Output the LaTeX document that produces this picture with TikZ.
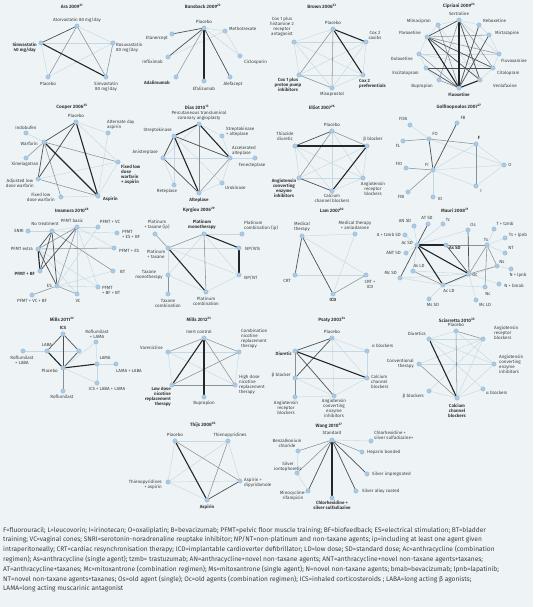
\documentclass[tikz,border=0pt]{standalone}
\usepackage{fontspec}
\setmainfont{Fira Sans}
\usetikzlibrary{backgrounds}
\pgfdeclarelayer{edgelayer}
\pgfsetlayers{background,edgelayer,main}
\definecolor{bgc}{RGB}{238,244,245}
\definecolor{nfill}{RGB}{172,202,228}
\definecolor{ndraw}{RGB}{140,178,212}
\definecolor{elight}{RGB}{198,216,228}
\definecolor{emid}{RGB}{135,145,152}
\definecolor{edark}{RGB}{75,80,85}
\definecolor{ethick}{RGB}{35,38,42}
\definecolor{txt}{RGB}{60,62,64}
\newcommand\NN[5]{\node[nd] (#1) at (#2) {};\node[lb,#3] (#1l) at (#4) {#5};}
\newcommand\EE[3]{\draw[#1] (#2) -- (#3);}
\begin{document}
\begin{tikzpicture}[x=1pt,y=-1pt,
  nd/.style={circle,fill=nfill,draw=ndraw,line width=0.3pt,inner sep=0pt,minimum size=4.4pt},
  lb/.style={font=\fontsize{4.5}{4.9}\selectfont,text=txt,inner sep=0pt,align=center},
  bb/.style={font=\fontsize{4.5}{4.9}\selectfont\bfseries},
  ttl/.style={font=\fontsize{4.7}{5}\selectfont\bfseries,text=txt,inner sep=0pt},
  captxt/.style={font=\fontsize{6.6}{7}\selectfont,text=txt,inner sep=0pt,anchor=base west},
  e0/.style={draw=elight,line width=0.45pt},
  e1/.style={draw=emid,line width=0.55pt},
  e2/.style={draw=edark,line width=0.7pt},
  e3/.style={draw=ethick,line width=1.1pt}]
\begin{pgfonlayer}{background}
\fill[bgc] (0,0) rectangle (533,607);
\end{pgfonlayer}
\useasboundingbox (0,0) rectangle (533,607);

% ---------------- Ara
\node[ttl] (tA) at (72,6) {Ara 2009\textsuperscript{21}};
\NN{a1}{77,26}{}{77,20}{Atorvastatin 80 mg/day}
\NN{a2}{41,43}{bb,anchor=east,align=center}{37,48}{Simvastatin\\40 mg/day}
\NN{a3}{113,43}{anchor=west,align=left}{116,48}{Rosuvastatin\\80 mg/day}
\NN{a4}{48,77}{}{48,84}{Placebo}
\NN{a5}{106,77}{}{106,86.5}{Simvastatin\\80 mg/day}
\begin{pgfonlayer}{edgelayer}
\EE{e0}{a1}{a3}\EE{e0}{a2}{a3}\EE{e0}{a4}{a3}\EE{e0}{a2}{a4}
\EE{e2}{a1}{a2}\EE{e1}{a1}{a4}\EE{e1}{a1}{a5}\EE{e3}{a2}{a5}\EE{e1}{a3}{a5}
\end{pgfonlayer}

% ---------------- Bansback
\node[ttl] (tB) at (203,6) {Bansback 2009\textsuperscript{22}};
\NN{b1}{204,28}{}{204,22}{Placebo}
\NN{b2}{172,34}{anchor=east}{168,38}{Etanercept}
\NN{b3}{225,31}{anchor=west}{229,29}{Methotrexate}
\NN{b4}{168,57}{anchor=east}{163,62}{Infliximab}
\NN{b5}{240,56}{anchor=west}{244,62}{Ciclosporin}
\NN{b6}{176,77}{bb,anchor=east}{170,83}{Adalimumab}
\NN{b7}{204,81}{}{204,89}{Efalizumab}
\NN{b8}{230,77}{}{233,84}{Alefacept}
\begin{pgfonlayer}{edgelayer}
\EE{e0}{b1}{b3}\EE{e0}{b1}{b5}\EE{e0}{b3}{b5}\EE{e0}{b3}{b4}
\EE{e2}{b1}{b2}\EE{e2}{b1}{b4}\EE{e1}{b1}{b6}\EE{e3}{b1}{b7}\EE{e2}{b1}{b8}
\end{pgfonlayer}

% ---------------- Brown
\node[ttl] (tC) at (322,6) {Brown 2006\textsuperscript{23}};
\NN{c1}{333,29}{}{333,23}{Placebo}
\NN{c2}{294,42}{}{282,26.5}{Cox 1 plus\\histamine 2\\receptor\\antagonist}
\NN{c3}{366,42}{}{375,35.5}{Cox 2\\coxibs}
\NN{c4}{299,75}{bb}{288,84.5}{Cox 1 plus\\proton pump\\inhibitors}
\NN{c5}{363,75}{bb,anchor=west,align=left}{359,84}{Cox 2\\preferentials}
\NN{c6}{332,88}{}{332,94}{Misoprostol}
\begin{pgfonlayer}{edgelayer}
\EE{e0}{c2}{c1}\EE{e0}{c2}{c4}\EE{e0}{c2}{c3}\EE{e0}{c3}{c5}\EE{e0}{c6}{c5}
\EE{e0}{c6}{c3}\EE{e0}{c4}{c3}\EE{e0}{c2}{c6}\EE{e0}{c4}{c5}\EE{e0}{c2}{c5}
\EE{e1}{c1}{c4}\EE{e1}{c4}{c6}\EE{e1}{c1}{c6}
\EE{e3}{c1}{c3}\EE{e3}{c1}{c5}
\end{pgfonlayer}

% ---------------- Cipriani
\node[ttl] (tD) at (459,6) {Cipriani 2009\textsuperscript{24}};
\NN{d1}{459,20}{}{459,14}{Sertraline}
\NN{d2}{438,25}{anchor=east}{431,21}{Milnacipran}
\NN{d3}{479,25}{anchor=west}{483,21}{Reboxetine}
\NN{d4}{427,37}{anchor=east}{421,33}{Paroxetine}
\NN{d5}{489,35}{anchor=west}{495,33}{Mirtazapine}
\NN{d6}{419,54}{anchor=east}{413,59}{Duloxetine}
\NN{d7}{499,54}{anchor=west}{501,61}{Fluvoxamine}
\NN{d8}{426,68}{anchor=east}{419,73}{Escitalopram}
\NN{d9}{493,68}{anchor=west}{497,73}{Citalopram}
\NN{d10}{439,80}{anchor=east}{433,86}{Bupropion}
\NN{d11}{480,80}{anchor=west}{493,86}{Venlafaxine}
\NN{d12}{459,88}{bb}{459,95}{Fluoxetine}
\begin{pgfonlayer}{edgelayer}
\EE{e0}{d1}{d2}\EE{e0}{d2}{d4}\EE{e0}{d4}{d6}\EE{e0}{d6}{d8}\EE{e0}{d8}{d10}
\EE{e0}{d12}{d11}\EE{e0}{d11}{d9}\EE{e0}{d9}{d7}\EE{e0}{d7}{d5}\EE{e0}{d5}{d3}
\EE{e0}{d3}{d1}\EE{e0}{d6}{d9}\EE{e0}{d2}{d11}\EE{e0}{d6}{d7}\EE{e0}{d1}{d7}
\EE{e1}{d4}{d7}\EE{e1}{d1}{d10}\EE{e1}{d4}{d5}\EE{e1}{d1}{d9}\EE{e1}{d2}{d12}
\EE{e1}{d6}{d12}\EE{e1}{d10}{d12}
\EE{e2}{d1}{d4}\EE{e2}{d3}{d12}\EE{e2}{d5}{d12}\EE{e2}{d4}{d11}\EE{e2}{d1}{d11}
\EE{e2}{d4}{d9}\EE{e2}{d8}{d9}\EE{e2}{d8}{d12}
\EE{e3}{d4}{d12}\EE{e3}{d11}{d12}\EE{e3}{d1}{d12}
\end{pgfonlayer}

% ---------------- Cooper
\node[ttl] (tE) at (72,107) {Cooper 2006\textsuperscript{25}};
\NN{e1}{76,122}{}{76,116}{Placebo}
\NN{e2}{108,133}{anchor=west,align=left}{107,124.5}{Alternate day\\aspirin}
\NN{e3}{26,133}{}{26,128}{Indobufen}
\NN{e4}{44,142}{anchor=east}{38,144}{Warfarin}
\NN{e5}{26,158}{}{25,164}{Ximelagatran}
\NN{e6}{118,162}{bb,anchor=north west,align=left}{121,165}{Fixed low\\dose\\warfarin\\+ aspirin}
\NN{e7}{38,179}{anchor=east}{34,183.5}{Adjusted low\\dose warfarin}
\NN{e8}{61,197}{anchor=east}{55,197.5}{Fixed low\\dose warfarin}
\NN{e9}{98,196}{bb,anchor=west}{103,199}{Aspirin}
\begin{pgfonlayer}{edgelayer}
\EE{e0}{e1}{e2}\EE{e0}{e1}{e6}\EE{e0}{e9}{e6}\EE{e0}{e2}{e9}\EE{e0}{e7}{e6}
\EE{e0}{e8}{e9}\EE{e0}{e4}{e3}
\EE{e1}{e4}{e5}\EE{e1}{e4}{e8}\EE{e1}{e7}{e9}\EE{e1}{e4}{e6}
\EE{e2}{e1}{e4}\EE{e2}{e1}{e7}\EE{e2}{e4}{e7}
\EE{e3}{e1}{e9}\EE{e3}{e4}{e9}
\end{pgfonlayer}

% ---------------- Dias
\node[ttl] (tF) at (197,107) {Dias 2010\textsuperscript{13}};
\NN{f1}{199,124}{anchor=south}{199,121}{Percutaneous transluminal\\coronary angioplasty}
\NN{f2}{174,136}{anchor=east}{172,130}{Streptokinase}
\NN{f3}{222,136}{anchor=west,align=left}{226,131.5}{Streptokinase\\+ alteplase}
\NN{f4}{163,158}{anchor=east}{158,152}{Anistreplase}
\NN{f5}{230,158}{anchor=west,align=left}{232,150.5}{Accelerated\\alteplase}
\NN{f6}{255,158}{}{252,165}{Tenecteplase}
\NN{f7}{174,185}{}{167,191}{Reteplase}
\NN{f8}{222,183}{anchor=west}{225,188}{Urokinase}
\NN{f9}{199,193}{bb}{199,200}{Alteplase}
\begin{pgfonlayer}{edgelayer}
\EE{e0}{f2}{f7}\EE{e0}{f4}{f5}\EE{e0}{f5}{f6}\EE{e0}{f5}{f8}\EE{e0}{f2}{f8}
\EE{e0}{f1}{f3}\EE{e0}{f3}{f5}\EE{e0}{f1}{f4}\EE{e0}{f9}{f8}\EE{e0}{f4}{f7}
\EE{e1}{f1}{f9}\EE{e1}{f5}{f9}
\EE{e2}{f2}{f5}\EE{e2}{f2}{f4}\EE{e2}{f4}{f9}
\EE{e3}{f1}{f2}\EE{e3}{f1}{f5}\EE{e3}{f2}{f9}
\end{pgfonlayer}

% ---------------- Elliot
\node[ttl] (tG) at (322,107) {Elliot 2007\textsuperscript{26}};
\NN{g1}{332,131}{}{332,125}{Placebo}
\NN{g2}{295,146}{}{285,136}{Thiazide\\diuretic}
\NN{g3}{367,146}{}{373,139}{β blocker}
\NN{g4}{299,178}{bb}{284,188}{Angiotensin\\converting\\enzyme\\inhibitors}
\NN{g5}{332,191}{}{332,198}{Calcium\\channel blockers}
\NN{g6}{363,178}{}{373,189}{Angiotensin\\receptor\\blockers}
\begin{pgfonlayer}{edgelayer}
\EE{e0}{g2}{g4}\EE{e0}{g2}{g5}\EE{e0}{g2}{g6}\EE{e0}{g1}{g5}\EE{e0}{g1}{g6}
\EE{e0}{g3}{g6}\EE{e0}{g4}{g3}\EE{e0}{g4}{g6}\EE{e0}{g5}{g6}
\EE{e1}{g1}{g3}\EE{e1}{g1}{g4}
\EE{e2}{g1}{g2}\EE{e2}{g4}{g5}
\EE{e3}{g2}{g3}\EE{e3}{g5}{g3}
\end{pgfonlayer}

% ---------------- Golfinopoulos
\node[ttl] (tH) at (459,107) {Golfinopoulos 2007\textsuperscript{27}};
\NN{h1}{410,125}{}{403,119}{FOB}
\NN{h2}{457,123}{}{463,118}{FB}
\NN{h3}{429,139}{}{435,134}{FO}
\NN{h4}{403,141}{}{398,146}{FL}
\NN{h5}{476,144}{bb}{479,138}{F}
\NN{h6}{406,168}{}{399,164}{FIO}
\NN{h7}{433,170}{}{427,165}{FI}
\NN{h8}{504,165}{}{510,165}{O}
\NN{h9}{476,186}{}{481,191}{I}
\NN{h10}{408,192}{}{401,197}{FIB}
\NN{h11}{433,197}{}{440,199}{IO}
\begin{pgfonlayer}{edgelayer}
\EE{e0}{h1}{h3}\EE{e0}{h5}{h7}\EE{e0}{h5}{h8}\EE{e0}{h7}{h8}\EE{e0}{h7}{h11}
\EE{e0}{h7}{h9}\EE{e0}{h8}{h9}\EE{e0}{h3}{h8}
\EE{e1}{h4}{h3}\EE{e1}{h3}{h5}\EE{e1}{h5}{h9}\EE{e1}{h6}{h7}\EE{e1}{h10}{h7}
\EE{e2}{h3}{h7}\EE{e2}{h2}{h7}
\end{pgfonlayer}

% ---------------- Imamura
\node[ttl] (tI) at (72,210) {Imamura 2010\textsuperscript{28}};
\NN{i0}{28,231}{anchor=east}{24,231}{SNRI}
\NN{i1}{52,231}{}{45,224}{No treatment}
\NN{i2}{77,227}{}{72,221}{PFMT basic}
\NN{i3}{98,227}{}{110,222}{PFMT + VC}
\NN{i4}{117,233}{anchor=west,align=left}{122,234.5}{PFMT\\+ ES + BF}
\NN{i5}{38,249}{anchor=east}{33,249}{PFMT extra}
\NN{i6}{114,248}{anchor=west}{119,251}{PFMT + ES}
\NN{i7}{40,271}{bb,anchor=east}{35,274}{PFMT + BF}
\NN{i8}{113,271}{anchor=west}{120,272}{BT}
\NN{i9}{57,286}{anchor=east}{52,286}{ES}
\NN{i10}{98,287}{anchor=west,align=left}{102,290}{PFMT\\+ BF + BT}
\NN{i11}{32,295}{}{32,301}{PFMT + VC + BF}
\NN{i12}{77,294}{}{78,301}{VC}
\begin{pgfonlayer}{edgelayer}
\EE{e0}{i0}{i1}\EE{e0}{i1}{i2}\EE{e0}{i2}{i3}\EE{e0}{i1}{i4}\EE{e0}{i9}{i10}
\EE{e0}{i9}{i8}\EE{e0}{i5}{i12}\EE{e0}{i2}{i12}\EE{e0}{i2}{i10}\EE{e0}{i2}{i6}
\EE{e0}{i5}{i10}\EE{e0}{i3}{i9}
\EE{e1}{i1}{i8}\EE{e1}{i5}{i6}\EE{e1}{i2}{i9}\EE{e1}{i2}{i5}\EE{e1}{i9}{i12}
\EE{e1}{i9}{i11}
\EE{e2}{i1}{i5}\EE{e2}{i1}{i7}\EE{e2}{i1}{i9}\EE{e2}{i5}{i9}\EE{e2}{i2}{i7}
\EE{e3}{i5}{i7}
\end{pgfonlayer}

% ---------------- Kyrgiou
\node[ttl] (tJ) at (199,210) {Kyrgiou 2006\textsuperscript{29}};
\NN{j1}{204,234}{bb}{202,224.5}{Platinum\\monotherapy}
\NN{j2}{155,234}{anchor=south}{157,230}{Platinum\\+ taxane (ip)}
\NN{j3}{242,234}{anchor=south west,align=left}{244,231}{Platinum\\combination (ip)}
\NN{j4}{168,248}{}{156,254}{Platinum\\+ taxane}
\NN{j5}{239,248}{anchor=west}{245,249}{NP/NTs}
\NN{j6}{168,275}{}{149,274.5}{Taxane\\monotherapy}
\NN{j7}{239,275}{anchor=west}{244,278}{NP/NT}
\NN{j8}{168,294}{}{168,303.5}{Taxane\\combination}
\NN{j9}{206,292}{}{206,301.5}{Platinum\\combination}
\begin{pgfonlayer}{edgelayer}
\EE{e0}{j1}{j3}\EE{e0}{j4}{j7}\EE{e0}{j4}{j6}\EE{e0}{j1}{j6}\EE{e0}{j9}{j7}
\EE{e0}{j1}{j7}\EE{e0}{j4}{j5}\EE{e0}{j6}{j9}
\EE{e1}{j1}{j4}\EE{e1}{j2}{j4}\EE{e1}{j6}{j8}\EE{e1}{j1}{j9}
\EE{e3}{j1}{j5}\EE{e3}{j5}{j7}\EE{e3}{j4}{j9}
\end{pgfonlayer}

% ---------------- Lam
\node[ttl] (tK) at (332,210) {Lam 2007\textsuperscript{30}};
\NN{k1}{302,236}{}{302,226.5}{Medical\\therapy}
\NN{k2}{355,234}{}{355,225}{Medical therapy\\+ amiodarone}
\NN{k3}{295,275}{}{287,281}{CRT}
\NN{k4}{366,275}{}{370,284.5}{CRT +\\ICD}
\NN{k5}{333,294}{bb}{333,300}{ICD}
\begin{pgfonlayer}{edgelayer}
\EE{e0}{k3}{k4}\EE{e0}{k1}{k2}\EE{e0}{k2}{k5}\EE{e0}{k1}{k4}
\EE{e1}{k5}{k4}
\EE{e2}{k1}{k3}\EE{e2}{k1}{k5}
\end{pgfonlayer}

% ---------------- Mauri
\node[ttl] (tL) at (455,210) {Mauri 2008\textsuperscript{31}};
\NN{l1}{414,226}{}{405,221}{AN SD}
\NN{l2}{428,224}{}{427,218}{AT SD}
\NN{l3}{443,224}{}{448,220}{Tc}
\NN{l4}{468,230}{}{473,225}{Os}
\NN{l5}{494,229}{}{505,224}{T + tzmb}
\NN{l6}{505,238}{}{518,235}{Ts + lpnb}
\NN{l7}{405,235}{anchor=east}{401,235}{A + tzmb SD}
\NN{l8}{417,245}{anchor=east}{413,243}{Ac SD}
\NN{l9}{446,245}{bb,anchor=west}{449,248}{As SD}
\NN{l10}{487,245}{}{486,240}{Ts}
\NN{l11}{505,253}{}{511,248}{NT}
\NN{l12}{406,253}{anchor=east}{401,253}{ANT SD}
\NN{l13}{400,278}{anchor=east}{397,273}{Mc SD}
\NN{l14}{413,271}{}{419,266}{As LD}
\NN{l15}{497,266}{}{502,262}{Ns}
\NN{l16}{443,285}{}{449,291}{Ac LD}
\NN{l17}{469,274}{}{475,275}{Oc}
\NN{l18}{511,269}{}{518,275}{N + lpnb}
\NN{l19}{499,284}{}{514,286}{N + bmab}
\NN{l20}{485,287}{}{488,294}{Nc}
\NN{l21}{429,299}{}{433,305}{Ms SD}
\NN{l22}{476,300}{}{485,305}{Mc LD}
\begin{pgfonlayer}{edgelayer}
\EE{e0}{l8}{l1}\EE{e0}{l8}{l7}\EE{e0}{l8}{l12}\EE{e0}{l8}{l14}\EE{e0}{l8}{l3}
\EE{e0}{l8}{l4}\EE{e0}{l14}{l17}\EE{e0}{l13}{l16}\EE{e0}{l16}{l21}\EE{e0}{l17}{l22}
\EE{e0}{l17}{l19}\EE{e0}{l15}{l18}\EE{e0}{l10}{l5}\EE{e0}{l10}{l6}\EE{e0}{l10}{l11}
\EE{e0}{l16}{l20}\EE{e0}{l9}{l10}\EE{e0}{l13}{l17}\EE{e0}{l16}{l15}
\EE{e1}{l8}{l10}\EE{e1}{l10}{l17}\EE{e1}{l10}{l20}\EE{e1}{l17}{l15}\EE{e1}{l10}{l15}
\EE{e1}{l14}{l16}
\EE{e2}{l9}{l17}\EE{e2}{l16}{l17}\EE{e2}{l8}{l13}\EE{e2}{l8}{l2}\EE{e2}{l4}{l17}
\EE{e3}{l8}{l9}\EE{e3}{l8}{l17}\EE{e3}{l8}{l16}
\end{pgfonlayer}

% ---------------- Mills 2011
\node[ttl] (tM) at (62,319) {Mills 2011\textsuperscript{32}};
\NN{m1}{63,334}{bb}{63,328}{ICS}
\NN{m2}{96,342}{}{97,334.5}{Roflumilast\\+ LAMA}
\NN{m3}{47,351}{}{47,345}{LABA}
\node[nd] (m4) at (79,351) {};
\NN{m5}{23,351}{}{22,360.5}{Roflumilast\\+ LABA}
\NN{m6}{63,368}{anchor=east}{58,371}{Placebo}
\NN{m7}{97,364}{}{105,358}{LAMA}
\NN{m8}{116,364}{}{129,371}{LAMA + LABA}
\NN{m9}{97,383}{}{107,389}{ICS + LABA + LAMA}
\NN{m10}{63,391}{}{62,397}{Roflumilast}
\begin{pgfonlayer}{edgelayer}
\EE{e0}{m3}{m4}\EE{e0}{m5}{m3}\EE{e0}{m7}{m8}\EE{e0}{m7}{m9}\EE{e0}{m6}{m2}
\EE{e0}{m6}{m9}\EE{e0}{m2}{m7}
\EE{e1}{m6}{m10}
\EE{e2}{m1}{m3}\EE{e2}{m1}{m6}\EE{e2}{m1}{m4}\EE{e2}{m4}{m6}
\EE{e3}{m3}{m6}\EE{e3}{m6}{m7}
\end{pgfonlayer}

% ---------------- Mills 2012
\node[ttl] (tN) at (199,319) {Mills 2012\textsuperscript{33}};
\NN{n1}{204,338}{}{199,332}{Inert control}
\NN{n2}{239,352}{anchor=west,align=left}{241,339}{Combination\\nicotine\\replacement\\therapy}
\NN{n3}{168,352}{anchor=east}{163,348}{Varenicline}
\NN{n4}{172,385}{bb,anchor=east,align=right}{171,397}{Low dose\\nicotine\\replacement\\therapy}
\NN{n5}{235,385}{anchor=west,align=left}{239,385}{High dose\\nicotine\\replacement\\therapy}
\NN{n6}{204,397}{}{204,403}{Bupropion}
\begin{pgfonlayer}{edgelayer}
\EE{e0}{n3}{n4}\EE{e0}{n3}{n5}\EE{e0}{n3}{n2}\EE{e0}{n2}{n5}
\EE{e1}{n1}{n3}\EE{e1}{n1}{n2}\EE{e1}{n1}{n5}\EE{e1}{n4}{n2}\EE{e1}{n4}{n5}
\EE{e3}{n1}{n4}\EE{e3}{n1}{n6}
\end{pgfonlayer}

% ---------------- Psaty
\node[ttl] (tO) at (332,320) {Psaty 2003\textsuperscript{34}};
\NN{o1}{332,338}{}{332,332}{Placebo}
\NN{o2}{295,351}{bb,anchor=east}{292,354}{Diuretic}
\NN{o3}{367,351}{anchor=west}{372,346}{α blockers}
\NN{o4}{295,378}{anchor=east}{291,375}{β blocker}
\NN{o5}{367,378}{anchor=west,align=left}{371,382}{Calcium\\channel\\blockers}
\NN{o6}{295,397}{}{286,407.5}{Angiotensin\\receptor\\blockers}
\NN{o7}{334,396}{}{334,408.5}{Angiotensin\\converting\\enzyme\\inhibitors}
\begin{pgfonlayer}{edgelayer}
\EE{e0}{o1}{o3}\EE{e0}{o1}{o7}\EE{e0}{o4}{o5}\EE{e0}{o4}{o7}\EE{e0}{o1}{o5}
\EE{e0}{o3}{o5}\EE{e0}{o7}{o5}\EE{e0}{o2}{o3}\EE{e0}{o6}{o7}
\EE{e1}{o2}{o4}\EE{e1}{o4}{o6}
\EE{e2}{o2}{o1}\EE{e2}{o2}{o7}\EE{e2}{o1}{o4}
\EE{e3}{o2}{o5}
\end{pgfonlayer}

% ---------------- Sciarretta
\node[ttl] (tP) at (457,320) {Sciarretta 2010\textsuperscript{35}};
\NN{p1}{456,331}{}{456,325}{Placebo}
\NN{p2}{429,339}{anchor=east}{426,334}{Diuretics}
\NN{p3}{483,339}{anchor=west,align=left}{494,333}{Angiotensin\\receptor\\blockers}
\NN{p4}{419,364}{anchor=east,align=right}{414,363.5}{Conventional\\therapy}
\NN{p5}{494,364}{anchor=west,align=left}{499,364.5}{Angiotensin\\converting\\enzyme\\inhibitors}
\NN{p6}{429,391}{anchor=east}{424,396}{β blockers}
\NN{p7}{483,389}{anchor=west}{486,393}{α blockers}
\NN{p8}{457,398}{bb}{457,410.5}{Calcium\\channel\\blockers}
\begin{pgfonlayer}{edgelayer}
\EE{e0}{p1}{p2}\EE{e0}{p2}{p3}\EE{e0}{p4}{p5}\EE{e0}{p2}{p5}\EE{e0}{p3}{p4}
\EE{e0}{p3}{p8}\EE{e0}{p5}{p8}\EE{e0}{p6}{p8}\EE{e0}{p7}{p8}\EE{e0}{p1}{p5}
\EE{e0}{p3}{p6}\EE{e0}{p2}{p7}
\EE{e1}{p1}{p8}\EE{e1}{p1}{p3}\EE{e1}{p4}{p8}
\EE{e3}{p2}{p8}
\end{pgfonlayer}

% ---------------- Thijs
\node[ttl] (tQ) at (203,425) {Thijs 2008\textsuperscript{36}};
\NN{q1}{175,441}{}{175,435}{Placebo}
\NN{q2}{228,441}{}{230,435}{Thienopyridines}
\NN{q3}{168,482}{anchor=east,align=right}{162,484.5}{Thienopyridines\\+ aspirin}
\NN{q4}{240,481}{anchor=west,align=left}{244,482.5}{Aspirin +\\dipyridamole}
\NN{q5}{207,500}{bb}{207,507}{Aspirin}
\begin{pgfonlayer}{edgelayer}
\EE{e0}{q1}{q2}\EE{e0}{q2}{q4}\EE{e0}{q3}{q5}\EE{e0}{q1}{q3}\EE{e0}{q3}{q2}
\EE{e0}{q3}{q4}
\EE{e1}{q2}{q5}\EE{e1}{q1}{q4}
\EE{e2}{q5}{q4}
\EE{e3}{q1}{q5}
\end{pgfonlayer}

% ---------------- Wang
\node[ttl] (tR) at (329,426) {Wang 2010\textsuperscript{37}};
\NN{r1}{332,440}{}{332,433}{Standard}
\NN{r2}{371,441}{anchor=west,align=left}{374,435}{Chlorhexidine +\\silver sulfadiazine+}
\NN{r3}{298,451}{}{287,443}{Benzalkonium\\chloride}
\NN{r4}{362,452}{anchor=west}{367,452}{Heparin bonded}
\NN{r5}{297,473}{}{288,467}{Silver\\iontophoretic}
\NN{r6}{367,474}{anchor=west}{372,474}{Silver impregnated}
\NN{r7}{308,491}{}{293,496}{Minocycline-\\rifampicin}
\NN{r8}{356,491}{anchor=west}{362,491}{Silver alloy coated}
\NN{r9}{332,498}{bb}{332,505.5}{Chlorhexidine +\\silver sulfadiazine}
\begin{pgfonlayer}{edgelayer}
\EE{e0}{r1}{r2}\EE{e0}{r3}{r5}\EE{e0}{r5}{r7}
\EE{e1}{r1}{r4}\EE{e1}{r1}{r5}\EE{e1}{r1}{r3}
\EE{e2}{r1}{r7}\EE{e2}{r1}{r8}\EE{e2}{r1}{r6}
\EE{e3}{r1}{r9}
\end{pgfonlayer}

% ---------------- caption
\node[captxt] (cp1) at (3,532) {F=fluorouracil; L=leucovorin; I=irinotecan; O=oxaliplatin; B=bevacizumab; PFMT=pelvic floor muscle training; BF=biofeedback; ES=electrical stimulation; BT=bladder};
\node[captxt] (cp2) at (3,541.8) {training; VC=vaginal cones; SNRI=serotonin-noradrenaline reuptake inhibitor; NP/NT=non-platinum and non-taxane agents; ip=including at least one agent given};
\node[captxt] (cp3) at (3,551.6) {intraperitoneally; CRT=cardiac resynchronisation therapy; ICD=implantable cardioverter defibrillator; LD=low dose; SD=standard dose; Ac=anthracycline (combination};
\node[captxt] (cp4) at (3,561.4) {regimen); As=anthracycline (single agent); tzmb= trastuzumab; AN=anthracycline+novel non-taxane agents; ANT=anthracycline+novel non-taxane agents+taxanes;};
\node[captxt] (cp5) at (3,571.2) {AT=anthracycline+taxanes; Mc=mitoxantrone (combination regimen); Ms=mitoxantrone (single agent); N=novel non-taxane agents; bmab=bevacizumab; lpnb=lapatinib;};
\node[captxt] (cp6) at (3,581) {NT=novel non-taxane agents+taxanes; Os=old agent (single); Oc=old agents (combination regimen); ICS=inhaled corticosteroids ; LABA=long acting β agonists;};
\node[captxt] (cp7) at (3,590.8) {LAMA=long acting muscarinic antagonist};
\end{tikzpicture}
\end{document}
